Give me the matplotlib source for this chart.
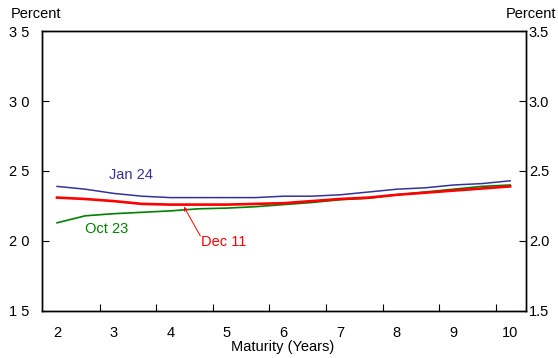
import matplotlib
matplotlib.use("Agg")
import matplotlib.pyplot as plt
from matplotlib.ticker import FixedLocator

plt.rcParams['font.family'] = ['Liberation Sans', 'DejaVu Sans']

# Vencimientos (años), cada medio año
maturity = [2, 2.5, 3, 3.5, 4, 4.5, 5, 5.5, 6, 6.5, 7, 7.5, 8, 8.5, 9, 9.5, 10]

jan24 = [2.39, 2.37, 2.34, 2.32, 2.31, 2.31, 2.31, 2.31, 2.32, 2.32, 2.33,
         2.35, 2.37, 2.38, 2.40, 2.41, 2.43]
dec11 = [2.31, 2.30, 2.285, 2.265, 2.26, 2.26, 2.26, 2.265, 2.27, 2.285, 2.30,
         2.31, 2.33, 2.345, 2.36, 2.375, 2.39]
oct23 = [2.13, 2.18, 2.195, 2.205, 2.215, 2.23, 2.235, 2.245, 2.26, 2.275, 2.295,
         2.305, 2.33, 2.35, 2.37, 2.39, 2.40]

yticks = [1.5, 2.0, 2.5, 3.0, 3.5]
left_labels = ['1 5', '2 0', '2 5', '3 0', '3 5']
right_labels = ['1.5', '2.0', '2.5', '3.0', '3.5']
xticks = [2, 3, 4, 5, 6, 7, 8, 9, 10]
xminor = [2.75, 3.75, 4.75, 5.75, 6.75, 7.75, 8.75, 9.75]

fs = 10.5

fig = plt.figure(figsize=(5.58, 3.58), dpi=100)
ax = fig.add_axes([0.0753, 0.1313, 0.8674, 0.7821])

ax.plot(maturity, oct23, color='#008000', lw=1.2)
ax.plot(maturity, dec11, color='#ff0000', lw=1.9)
ax.plot(maturity, jan24, color='#33339a', lw=1.1)

ax.set_xlim(1.735, 10.28)
ax.set_ylim(1.5, 3.5)

# Ejes
ax.set_xticks(xticks)
ax.set_xticklabels([str(x) for x in xticks], fontsize=fs)
ax.xaxis.set_minor_locator(FixedLocator(xminor))
ax.tick_params(axis='x', which='major', length=0, pad=11)
ax.tick_params(axis='x', which='minor', direction='in', length=5, width=0.8)

ax.set_yticks(yticks)
ax.set_yticklabels(left_labels, fontsize=fs)
ax.tick_params(axis='y', direction='in', length=5, width=0.8, pad=9)

ax2 = ax.twinx()
ax2.set_ylim(1.5, 3.5)
ax2.set_yticks(yticks)
ax2.set_yticklabels(right_labels, fontsize=fs)
ax2.tick_params(axis='y', direction='in', length=5, width=0.8, pad=2)

for a in (ax, ax2):
    for s in a.spines.values():
        s.set_linewidth(1.0)

# Etiquetas de series
ax.text(3.31, 2.47, 'Jan 24', color='#33339a', fontsize=fs, ha='center', va='center')
ax.text(2.87, 2.085, 'Oct 23', color='#008000', fontsize=fs, ha='center', va='center')
ax.text(4.95, 1.995, 'Dec 11', color='#ff0000', fontsize=fs, ha='center', va='center')
ax.annotate('', xy=(4.24, 2.245), xytext=(4.53, 2.036),
            arrowprops=dict(arrowstyle='->', color='#ff0000', lw=0.7,
                            shrinkA=0, shrinkB=0, mutation_scale=6))

fig.text(0.02, 0.962, 'Percent', fontsize=fs, ha='left', va='center')
fig.text(0.997, 0.962, 'Percent', fontsize=fs, ha='right', va='center')
fig.text(0.507, 0.032, 'Maturity (Years)', fontsize=fs, ha='center', va='center')

fig.savefig('out.png', dpi=100)
